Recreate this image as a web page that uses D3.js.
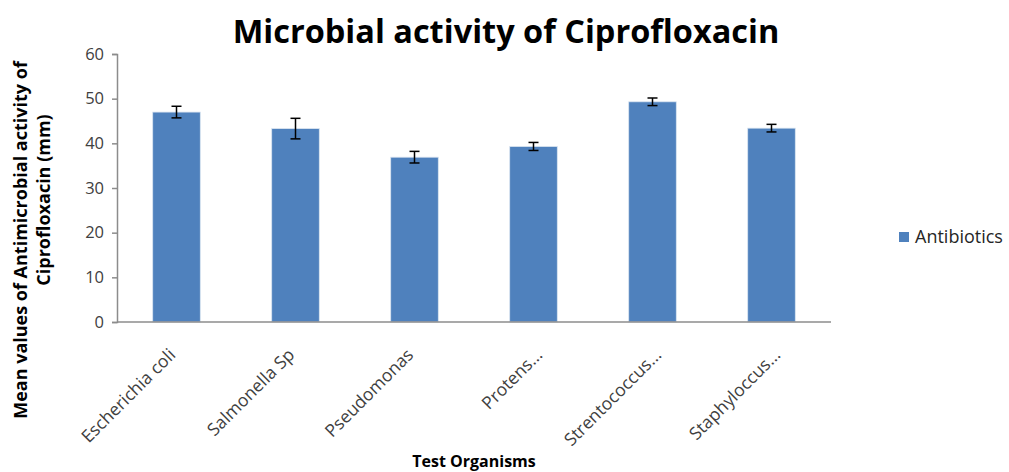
<!DOCTYPE html>
<html>
<head>
<meta charset="utf-8">
<script src="https://d3js.org/d3.v7.min.js"></script>
<style>
    body { margin: 0; background: #fff; }
    text { font-family: "Open Sans", Lato, sans-serif; }
</style>
</head>
<body>
<div id="chart"></div>
<script>
    // data
    var organisms = ["Escherichia coli", "Salmonella Sp", "Pseudomonas", "Protens...", "Strentococcus...", "Staphyloccus..."];
    var means = [47.0, 43.3, 36.9, 39.3, 49.3, 43.4];
    var errors = [1.3, 2.3, 1.3, 0.9, 0.85, 0.85];
    var yTicks = [0, 10, 20, 30, 40, 50, 60];

    var width = 1009, height = 472;
    var plotLeft = 117, plotRight = 831, plotTop = 54, plotBottom = 322;

    var svg = d3.select("#chart").append("svg")
        .attr("width", width)
        .attr("height", height);

    var xs = d3.scaleBand().domain(organisms).range([plotLeft, plotRight]).paddingInner(0.6).paddingOuter(0.3);
    var ys = d3.scaleLinear().domain([0, 60]).range([plotBottom, plotTop]);

    // Title
    svg.append("text")
        .attr("x", 506)
        .attr("y", 43)
        .attr("text-anchor", "middle")
        .style("font-size", "32.5px")
        .style("font-weight", "bold")
        .text("Microbial activity of Ciprofloxacin");

    // Y axis
    var yAxis = svg.append("g")
        .attr("transform", "translate(" + plotLeft + ",0)")
        .call(d3.axisLeft(ys).tickValues(yTicks).tickSize(5).tickPadding(8));
    yAxis.selectAll("line, path").attr("stroke", "#8c8c8c").attr("stroke-width", 1.5);
    yAxis.selectAll("text").style("font-size", "16.5px").attr("fill", "#404040");

    // bars
    svg.selectAll(".bar")
        .data(organisms)
        .enter()
        .append("rect")
        .attr("class", "bar")
        .attr("x", function (d) { return xs(d); })
        .attr("y", function (d, i) { return ys(means[i]); })
        .attr("width", xs.bandwidth())
        .attr("height", function (d, i) { return plotBottom - ys(means[i]); })
        .attr("fill", "#4f81bd")
        .attr("stroke", "#dbe5f1")
        .attr("stroke-width", 0.8);

    // error bars
    var eb = svg.selectAll(".err")
        .data(organisms)
        .enter()
        .append("g")
        .attr("class", "err")
        .attr("stroke", "#000")
        .attr("stroke-width", 1.5);
    eb.append("line")
        .attr("x1", function (d) { return xs(d) + xs.bandwidth() / 2; })
        .attr("x2", function (d) { return xs(d) + xs.bandwidth() / 2; })
        .attr("y1", function (d, i) { return ys(means[i] + errors[i]); })
        .attr("y2", function (d, i) { return ys(means[i] - errors[i]); });
    [1, -1].forEach(function (s) {
        eb.append("line")
            .attr("x1", function (d) { return xs(d) + xs.bandwidth() / 2 - 5; })
            .attr("x2", function (d) { return xs(d) + xs.bandwidth() / 2 + 5; })
            .attr("y1", function (d, i) { return ys(means[i] + s * errors[i]); })
            .attr("y2", function (d, i) { return ys(means[i] + s * errors[i]); });
    });

    // X axis
    var xAxis = svg.append("g")
        .attr("transform", "translate(0," + plotBottom + ")")
        .call(d3.axisBottom(xs).tickSize(0).tickPadding(0));
    xAxis.select("path").attr("stroke", "#8c8c8c").attr("stroke-width", 1.5)
        .attr("d", "M" + plotLeft + ",0H" + plotRight);
    // truncated labels sit a little further right, like in the original
    xAxis.selectAll("text")
        .style("font-size", "17.5px")
        .attr("fill", "#404040")
        .attr("text-anchor", "end")
        .attr("dy", null)
        .attr("y", 0)
        .attr("transform", function (d) {
            var dx = d.endsWith("...") ? 10 : 0;
            return "translate(" + dx + ",34) rotate(-45)";
        });

    // axis titles
    svg.append("text")
        .attr("x", (plotLeft + plotRight) / 2)
        .attr("y", 467)
        .attr("text-anchor", "middle")
        .style("font-size", "16px")
        .style("font-weight", "bold")
        .text("Test Organisms");

    svg.append("text")
        .attr("transform", "translate(27,240) rotate(-90)")
        .attr("text-anchor", "middle")
        .style("font-size", "18px")
        .style("font-weight", "bold")
        .text("Mean values of Antimicrobial  activity of");
    svg.append("text")
        .attr("transform", "translate(50,200) rotate(-90)")
        .attr("text-anchor", "middle")
        .style("font-size", "18px")
        .style("font-weight", "bold")
        .text("Ciprofloxacin  (mm)");

    // legend
    var legend = svg.append("g").attr("transform", "translate(899,232)");
    legend.append("rect")
        .attr("width", 10).attr("height", 10)
        .attr("fill", "#4f81bd");
    legend.append("text")
        .attr("x", 16).attr("y", 11)
        .style("font-size", "18px")
        .attr("fill", "#262626")
        .text("Antibiotics");
</script>
</body>
</html>
